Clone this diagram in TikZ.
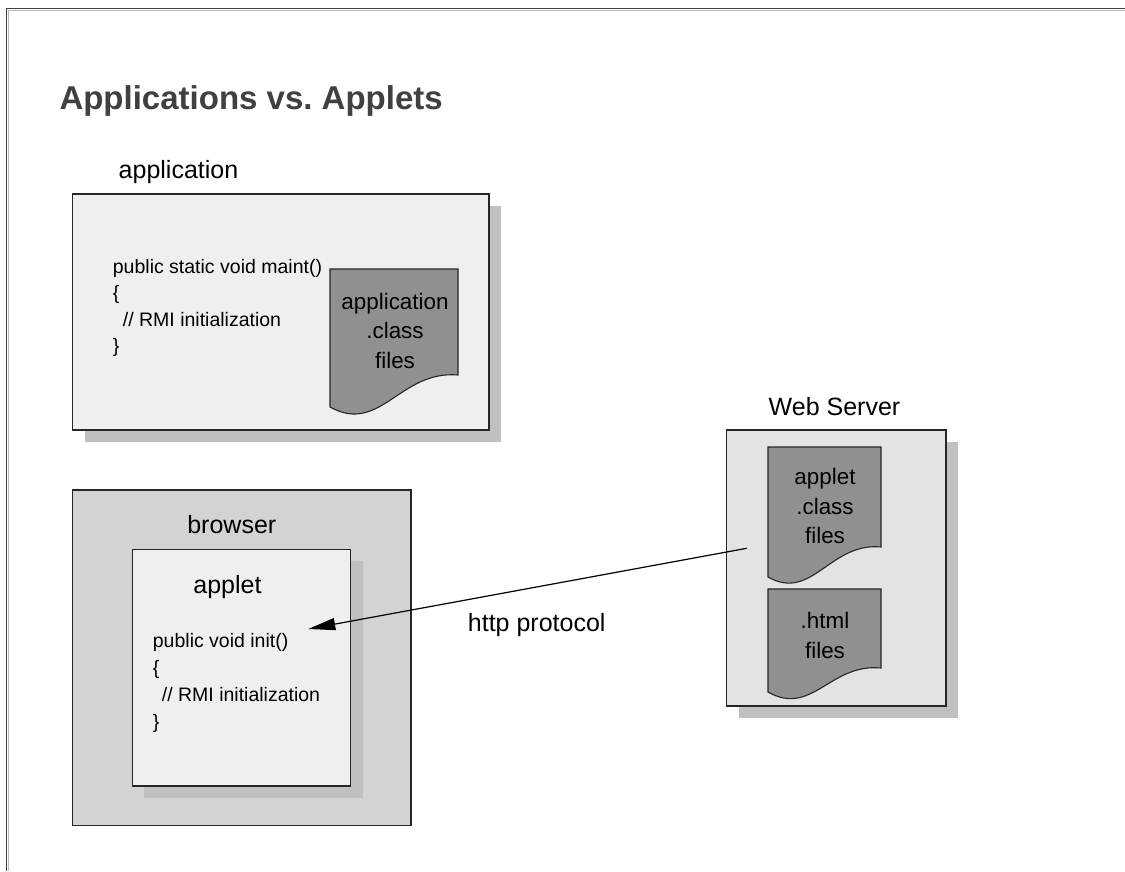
\documentclass[tikz,border=0pt]{standalone}
\usepackage{fontspec}
\setmainfont{Liberation Sans}
\usetikzlibrary{arrows.meta,shadows}
\definecolor{boxlight}{HTML}{EFEFEF}
\definecolor{boxmid}{HTML}{E3E3E3}
\definecolor{boxdark}{HTML}{D3D3D3}
\definecolor{shadowgray}{HTML}{C0C0C0}
\definecolor{docgray}{HTML}{909090}
\definecolor{titlegray}{HTML}{404040}
\definecolor{edge}{HTML}{262626}
\frenchspacing
\begin{document}
\begin{tikzpicture}[x=1pt,y=-1pt,
  panel/.style={draw=edge, line width=1.2pt, anchor=north west, inner sep=0pt, outer sep=0pt},
  shadowed/.style={drop shadow={shadow xshift=12pt, shadow yshift=-12pt, fill=shadowgray, opacity=1}},
  docshape/.style={draw=edge, line width=1.1pt, fill=docgray},
  doctext/.style={align=center, inner sep=0pt, font=\fontsize{22.4}{29.5}\selectfont},
  codeline/.style={anchor=base west, inner sep=0pt, font=\fontsize{19.5}{26.5}\selectfont},
  lbl/.style={anchor=base, inner sep=0pt, font=\fontsize{25}{30}\selectfont},
]
\useasboundingbox (0,0) rectangle (1125,871);
\fill[white] (0,0) rectangle (1125,871);
% frame
\draw[gray!55, line width=0.8pt] (8.2,871) -- (8.2,10.3) -- (1125,10.3);
\draw[titlegray, line width=1.6pt] (6.5,871) -- (6.5,8.5) -- (1125,8.5);
% title
\node[anchor=base west, inner sep=0pt, text=titlegray, font=\fontsize{33}{36}\selectfont\bfseries] (title) at (59.3,109) {Applications vs.\ Applets};
% application box
\node[lbl] (applbl) at (178.5,178) {application};
\node[panel, shadowed, fill=boxlight, minimum width=416.3pt, minimum height=236pt] (appbox) at (72.7,194) {};
\node[codeline] (m1) at (112.7,273) {public static void maint()};
\node[codeline] (m2) at (112.7,299.5) {\{};
\node[codeline] (m3) at (122.7,326) {// RMI initialization};
\node[codeline] (m4) at (112.7,352.5) {\}};
\draw[docshape] (330,269) -- (458,269) -- (458,375) .. controls (400,370) and (380,435) .. (330,407) -- cycle;
\node[doctext] (appdoc) at (395,330.7) {application\\.class\\files};
% web server
\node[lbl] (wslbl) at (834.5,415) {Web Server};
\node[panel, shadowed, fill=boxmid, minimum width=219.3pt, minimum height=276pt] (wsbox) at (726.7,430) {};
\draw[docshape] (768,447) -- (881,447) -- (881,547) .. controls (830,542) and (812,602) .. (768,577) -- cycle;
\node[doctext] (appletdoc) at (825,506) {applet\\.class\\files};
\draw[docshape] (768,589) -- (881,589) -- (881,668) .. controls (830,663) and (812,717) .. (768,692) -- cycle;
\node[doctext] (htmldoc) at (825,635.5) {.html\\files};
% browser
\node[panel, fill=boxdark, minimum width=338.3pt, minimum height=335.7pt] (brbox) at (72.7,490) {};
\node[lbl] (brlbl) at (231.8,533) {browser};
\node[panel, shadowed, fill=boxlight, minimum width=218.4pt, minimum height=236.7pt] (apbox) at (132.3,549.3) {};
\node[lbl] (apltlbl) at (227.5,593) {applet};
\node[codeline] (a1) at (152.7,647) {public void init()};
\node[codeline] (a2) at (152.7,674) {\{};
\node[codeline] (a3) at (161.7,701) {// RMI initialization};
\node[codeline] (a4) at (152.7,728) {\}};
% arrow
\node[lbl] (httplbl) at (536.7,631.5) {http protocol};
\coordinate (src) at (746.7,548.3);
\coordinate (tip) at (308.3,629);
\draw[line width=1.2pt, -{Triangle[length=27pt,width=12pt]}] (src) -- (tip);
\end{tikzpicture}
\end{document}
